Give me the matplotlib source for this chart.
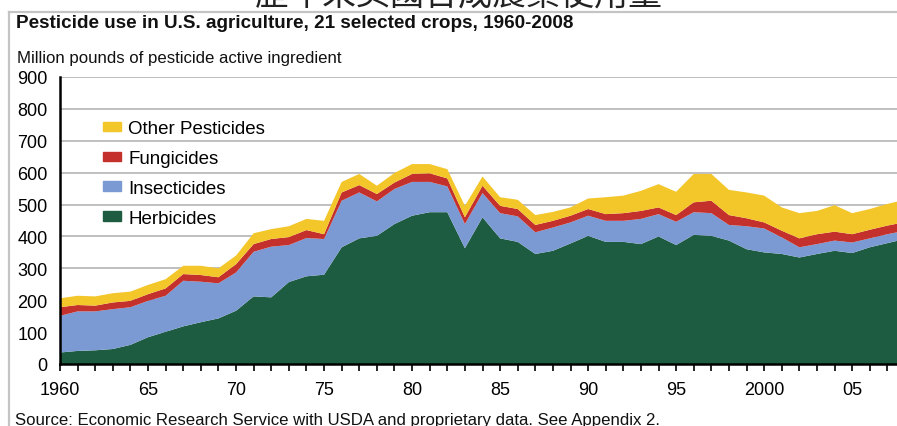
import numpy as np
import matplotlib.pyplot as plt
from matplotlib.patches import Patch
from matplotlib.lines import Line2D

plt.rcParams['font.family'] = ['Liberation Sans', 'DejaVu Sans']

years = list(range(1960, 2009))

herbicides = [36, 41, 43, 47, 60, 84, 101, 118, 131, 143,
              167, 212, 209, 257, 275, 280, 366, 394, 402, 439,
              465, 476, 476, 363, 460, 394, 383, 345, 355, 378,
              402, 383, 383, 376, 400, 373, 405, 402, 387, 360,
              350, 345, 334, 345, 355, 348, 366, 379, 392]
insecticides = [115, 124, 122, 125, 118, 114, 113, 143, 127, 110,
                120, 140, 159, 116, 120, 112, 146, 144, 108, 110,
                106, 95, 81, 76, 76, 79, 80, 68, 73, 66,
                63, 66, 66, 79, 70, 73, 71, 71, 49, 72,
                75, 52, 32, 31, 32, 33, 28, 28, 26]
fungicides = [27, 20, 18, 21, 20, 21, 23, 21, 21, 19,
              26, 24, 24, 25, 25, 15, 26, 23, 23, 20,
              25, 27, 25, 21, 23, 23, 23, 23, 21, 21,
              21, 21, 24, 25, 21, 21, 31, 39, 31, 25,
              19, 21, 28, 31, 28, 26, 27, 27, 27]
other = [28, 29, 29, 29, 29, 29, 29, 26, 29, 28,
         27, 34, 31, 34, 35, 42, 33, 35, 26, 30,
         31, 29, 29, 36, 29, 27, 29, 31, 28, 26,
         33, 53, 55, 63, 73, 73, 89, 84, 79, 81,
         84, 73, 79, 73, 83, 66, 65, 68, 70]

labels = ['Herbicides', 'Insecticides', 'Fungicides', 'Other Pesticides']
colors = ['#1d5c40', '#7b9ad3', '#c4302b', '#f3c62a']

xtick_pos = list(range(1960, 2006, 5))
xtick_labels = ['1960', '65', '70', '75', '80', '85', '90', '95', '2000', '05']

fig = plt.figure(figsize=(8.97, 4.27), dpi=100)
ax = fig.add_axes([60/897, 62/427, 845/897, 287/427])

ax.stackplot(years, herbicides, insecticides, fungicides, other,
             colors=colors, linewidth=0, zorder=2)

ax.set_xlim(1960, 2008)
ax.set_ylim(0, 900)
ax.set_yticks(range(0, 901, 100))
ax.grid(axis='y', color='#b4b4b4', linewidth=1.2, zorder=0)
ax.set_axisbelow(True)
ax.tick_params(axis='y', length=0, pad=9, labelsize=13)
ax.set_xticks(xtick_pos, xtick_labels)
ax.set_xticks(years, minor=True)
ax.tick_params(axis='x', which='both', direction='out', length=5, width=1.2,
               color='black', labelsize=13, pad=7)
for s in ['top', 'right']:
    ax.spines[s].set_visible(False)
ax.spines['left'].set_linewidth(1.8)
ax.spines['bottom'].set_linewidth(1.8)
ax.spines['left'].set_zorder(3)
ax.spines['bottom'].set_zorder(3)

handles = [Patch(color=c) for c in colors][::-1]
ax.legend(handles, labels[::-1], loc='upper left',
          bbox_to_anchor=(103/897, 1 - 121/427), bbox_transform=fig.transFigure,
          frameon=False, fontsize=13.5, handlelength=0.96, handleheight=0.4,
          handletextpad=0.4, labelspacing=0.69, borderpad=0, borderaxespad=0)

fig.text(0.511, 0.986, '歷年來美國合成農藥使用量', ha='center', va='baseline',
         fontsize=24.5, color='#222222', family=['Noto Sans CJK TC', 'DejaVu Sans'])
fig.text(16/897, 1 - 27.5/427, 'Pesticide use in U.S. agriculture, 21 selected crops, 1960-2008',
         fontsize=13.6, fontweight='bold', color='#111111', va='baseline')
fig.text(17/897, 1 - 63.3/427, 'Million pounds of pesticide active ingredient',
         fontsize=12.1, color='#111111', va='baseline')
fig.text(15/897, 1 - 425.5/427,
         'Source: Economic Research Service with USDA and proprietary data. See Appendix 2.',
         fontsize=12.05, color='#111111', va='baseline')

# outer frame
fig.add_artist(Line2D([8.5/897, 8.5/897], [0, 1 - 13/427], transform=fig.transFigure,
                      color='#c4c4c4', linewidth=1.6))
fig.add_artist(Line2D([8.5/897, 1], [1 - 13/427, 1 - 13/427], transform=fig.transFigure,
                      color='#c4c4c4', linewidth=1.6))

plt.savefig('out.png', dpi=100)
